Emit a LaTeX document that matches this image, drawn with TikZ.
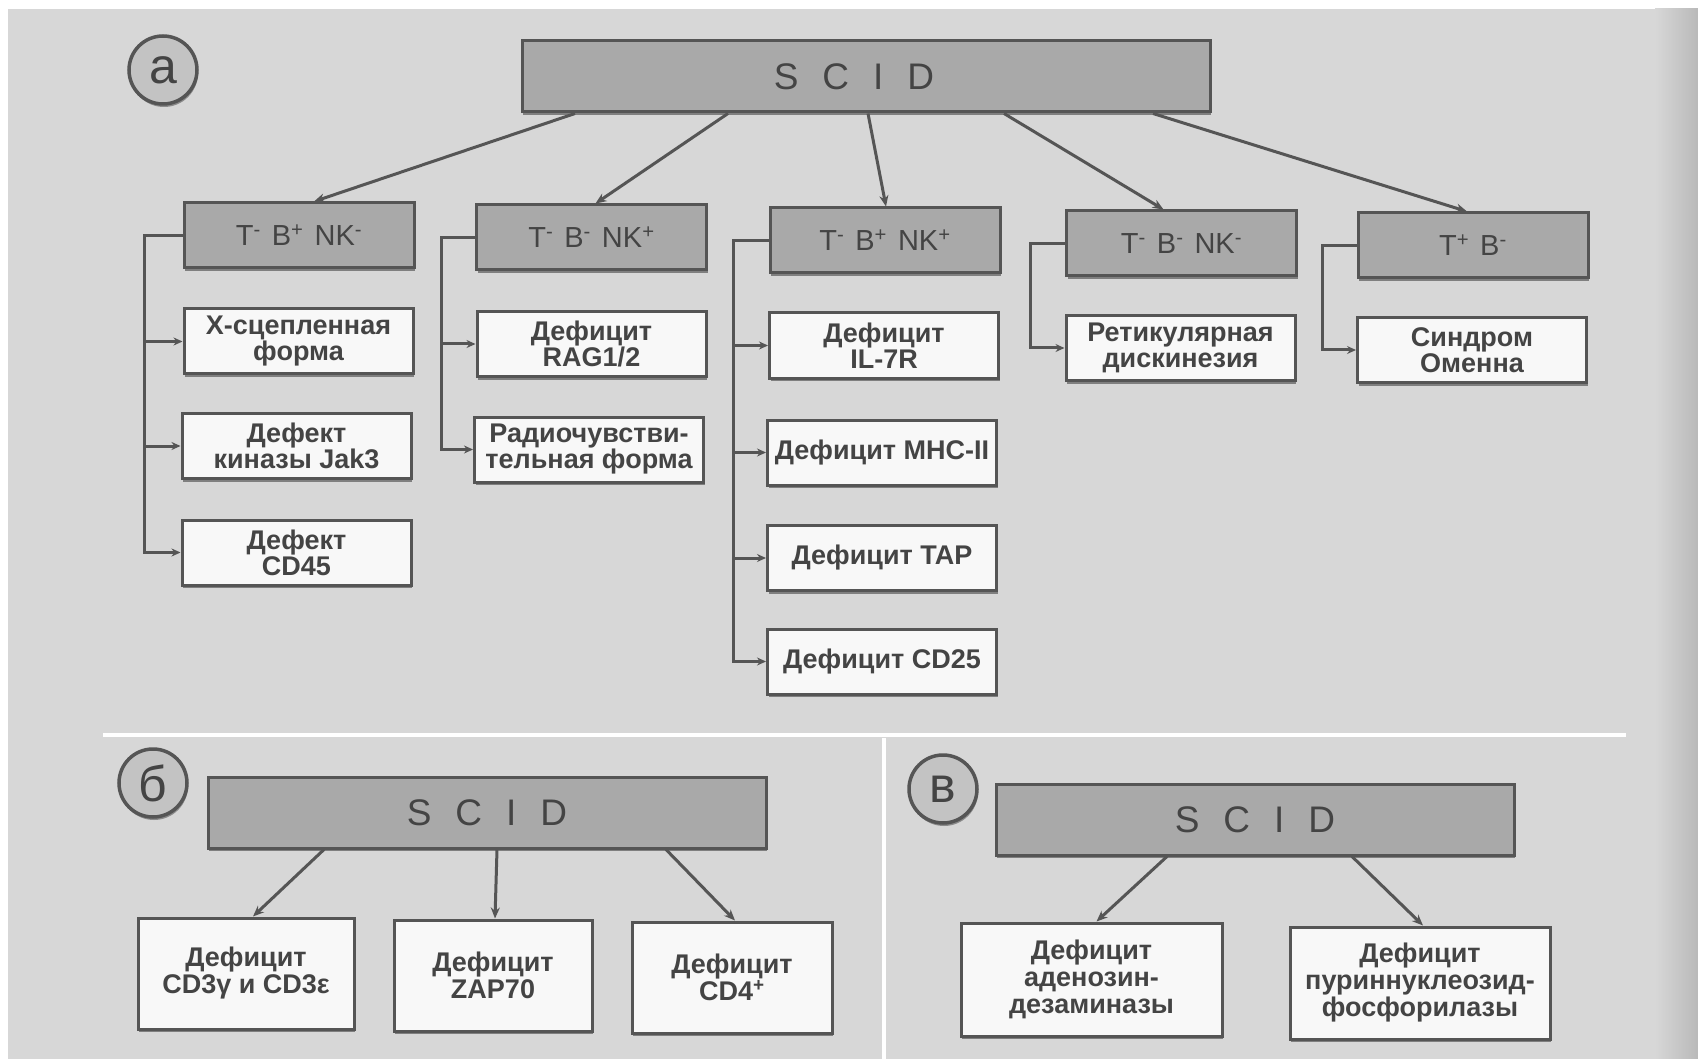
\documentclass[tikz,border=0pt]{standalone}
\usepackage{fontspec}
\setmainfont{Liberation Sans}
\usetikzlibrary{shadows,arrows.meta}
\definecolor{bg}{HTML}{D7D7D7}
\definecolor{bgdark}{HTML}{B9B9B9}
\definecolor{edge}{HTML}{555555}
\definecolor{gfill}{HTML}{A9A9A9}
\definecolor{wfill}{HTML}{F8F8F8}
\definecolor{txt}{HTML}{444444}
\definecolor{shad}{HTML}{6A6A6A}
\definecolor{circ}{HTML}{C3C3C3}
\newcommand{\sg}{\hspace{11pt}}
\newcommand{\scidtxt}{S\hspace{24pt}C\hspace{24pt}I\hspace{24pt}D}
\tikzset{
 base/.style={draw=edge, line width=3pt, inner sep=2pt, text=txt, align=center,
   drop shadow={shadow xshift=1pt, shadow yshift=-3pt, fill=shad, opacity=0.8}},
 scidbox/.style={base, fill=gfill, minimum height=71pt, font=\fontsize{37}{40}\selectfont},
 gbox/.style={base, fill=gfill, minimum width=230pt, minimum height=65pt, font=\fontsize{29}{30}\selectfont},
 wbox/.style={base, fill=wfill, minimum width=229pt, minimum height=65pt, font=\bfseries\fontsize{27}{26}\selectfont},
 bbox/.style={base, fill=wfill, minimum height=111pt, font=\bfseries\fontsize{27}{27}\selectfont},
 conn/.style={draw=edge, line width=3pt},
 arr/.style={conn, -{Stealth[length=11pt,width=9pt]}},
 sarr/.style={conn, -{Stealth[length=9pt,width=8pt]}},
 badge/.style={circle, draw=edge, line width=3.5pt, fill=circ, minimum size=68pt, inner sep=0pt,
   font=\fontsize{50}{50}\selectfont, text=txt,
   drop shadow={shadow xshift=1pt, shadow yshift=-3pt, fill=shad, opacity=0.7}},
 sep/.style={draw=white, line width=4pt},
}
\begin{document}
\begin{tikzpicture}[x=1pt,y=-1pt]
\useasboundingbox (0,0) rectangle (1698,1059);
\fill[white] (0,0) rectangle (1698,1059);
\fill[bg] (8,9) rectangle (1698,1059);
\shade[left color=bg, right color=bgdark] (1655,9) rectangle (1698,1059);

% separators
\draw[sep] (103,735) -- (1626,735);
\draw[sep] (884,738) -- (884,1059);

% ---------- panel a ----------
\node[badge] (ba) at (163,70) {а};
\node[scidbox, minimum width=688pt] (scida) at (866,76.5) {\scidtxt\hspace{24pt}};

\node[gbox] (g1) at (299,235.5) {T\textsuperscript{-}\sg B\textsuperscript{+}\sg NK\textsuperscript{-}};
\node[gbox] (g2) at (591.5,237.5) {T\textsuperscript{-}\sg B\textsuperscript{-}\sg NK\textsuperscript{+}};
\node[gbox] (g3) at (885,240.5) {T\textsuperscript{-}\sg B\textsuperscript{+}\sg NK\textsuperscript{+}};
\node[gbox] (g4) at (1181.5,243.5) {T\textsuperscript{-}\sg B\textsuperscript{-}\sg NK\textsuperscript{-}};
\node[gbox] (g5) at (1473,245.5) {T\textsuperscript{+}\sg B\textsuperscript{-}};

\node[wbox] (c11) at (298.5,341.5) {Х-сцепленная\\форма};
\node[wbox] (c12) at (296.5,446) {Дефект\\киназы Jak3};
\node[wbox] (c13) at (296.5,552.5) {Дефект\\CD45};
\node[wbox] (c21) at (591.5,344) {Дефицит\\RAG1/2};
\node[wbox] (c22) at (589,449.5) {Радиочувстви-\\тельная форма};
\node[wbox] (c31) at (884,345.5) {Дефицит\\IL-7R};
\node[wbox] (c32) at (882,452.5) {Дефицит MHC-II};
\node[wbox] (c33) at (882,558) {Дефицит TAP};
\node[wbox] (c34) at (882,661.5) {Дефицит CD25};
\node[wbox] (c41) at (1180.5,348) {Ретикулярная\\дискинезия};
\node[wbox] (c51) at (1472,350) {Синдром\\Оменна};

\draw[arr] ([xshift=-291pt]scida.south) -- ([xshift=15pt]g1.north);
\draw[arr] ([xshift=-138pt]scida.south) -- ([xshift=4pt]g2.north);
\draw[arr] ([xshift=2pt]scida.south) -- ([xshift=1pt]g3.north);
\draw[arr] ([xshift=138pt]scida.south) -- ([xshift=-18pt]g4.north);
\draw[arr] ([xshift=287pt]scida.south) -- ([xshift=-6pt]g5.north);

% brackets
\path (g1.west) ++(-38,0) coordinate (v1);
\path (g2.west) ++(-34,0) coordinate (v2);
\path (g3.west) ++(-35,0) coordinate (v3);
\path (g4.west) ++(-35,0) coordinate (v4);
\path (g5.west) ++(-34,0) coordinate (v5);

\draw[sarr] (g1.west) -- (v1) |- (c13.west);
\draw[sarr] (v1 |- c11.west) -- (c11.west);
\draw[sarr] (v1 |- c12.west) -- (c12.west);

\draw[sarr] (g2.west) -- (v2) |- (c22.west);
\draw[sarr] (v2 |- c21.west) -- (c21.west);

\draw[sarr] (g3.west) -- (v3) |- (c34.west);
\draw[sarr] (v3 |- c31.west) -- (c31.west);
\draw[sarr] (v3 |- c32.west) -- (c32.west);
\draw[sarr] (v3 |- c33.west) -- (c33.west);

\draw[sarr] (g4.west) -- (v4) |- (c41.west);
\draw[sarr] (g5.west) -- (v5) |- (c51.west);

% ---------- panel b ----------
\node[badge] (bb) at (153,783) {б};
\node[scidbox, minimum width=558pt] (scidb) at (487,812.5) {\scidtxt};
\node[bbox, minimum width=216pt] (b1) at (246,973.5) {Дефицит\\CD3γ и CD3ε};
\node[bbox, minimum width=198pt] (b2) at (493,975.5) {Дефицит\\ZAP70};
\node[bbox, minimum width=200pt] (b3) at (732,977.5) {Дефицит\\CD4\textsuperscript{+}};
\draw[arr] ([xshift=-163pt]scidb.south) -- ([xshift=7pt]b1.north);
\draw[arr] ([xshift=10pt]scidb.south) -- ([xshift=2pt]b2.north);
\draw[arr] ([xshift=179pt]scidb.south) -- ([xshift=3pt]b3.north);

% ---------- panel c ----------
\node[badge] (bc) at (943,789) {в};
\node[scidbox, minimum width=518pt] (scidc) at (1255,819.5) {\scidtxt};
\node[bbox, minimum width=261pt, minimum height=113pt] (d1) at (1091.5,979.5) {Дефицит\\аденозин-\\дезаминазы};
\node[bbox, minimum width=260pt, minimum height=112pt] (d2) at (1420,983) {Дефицит\\пуриннуклеозид-\\фосфорилазы};
\draw[arr] ([xshift=-88pt]scidc.south) -- ([xshift=5pt]d1.north);
\draw[arr] ([xshift=97pt]scidc.south) -- ([xshift=3pt]d2.north);
\end{tikzpicture}
\end{document}
